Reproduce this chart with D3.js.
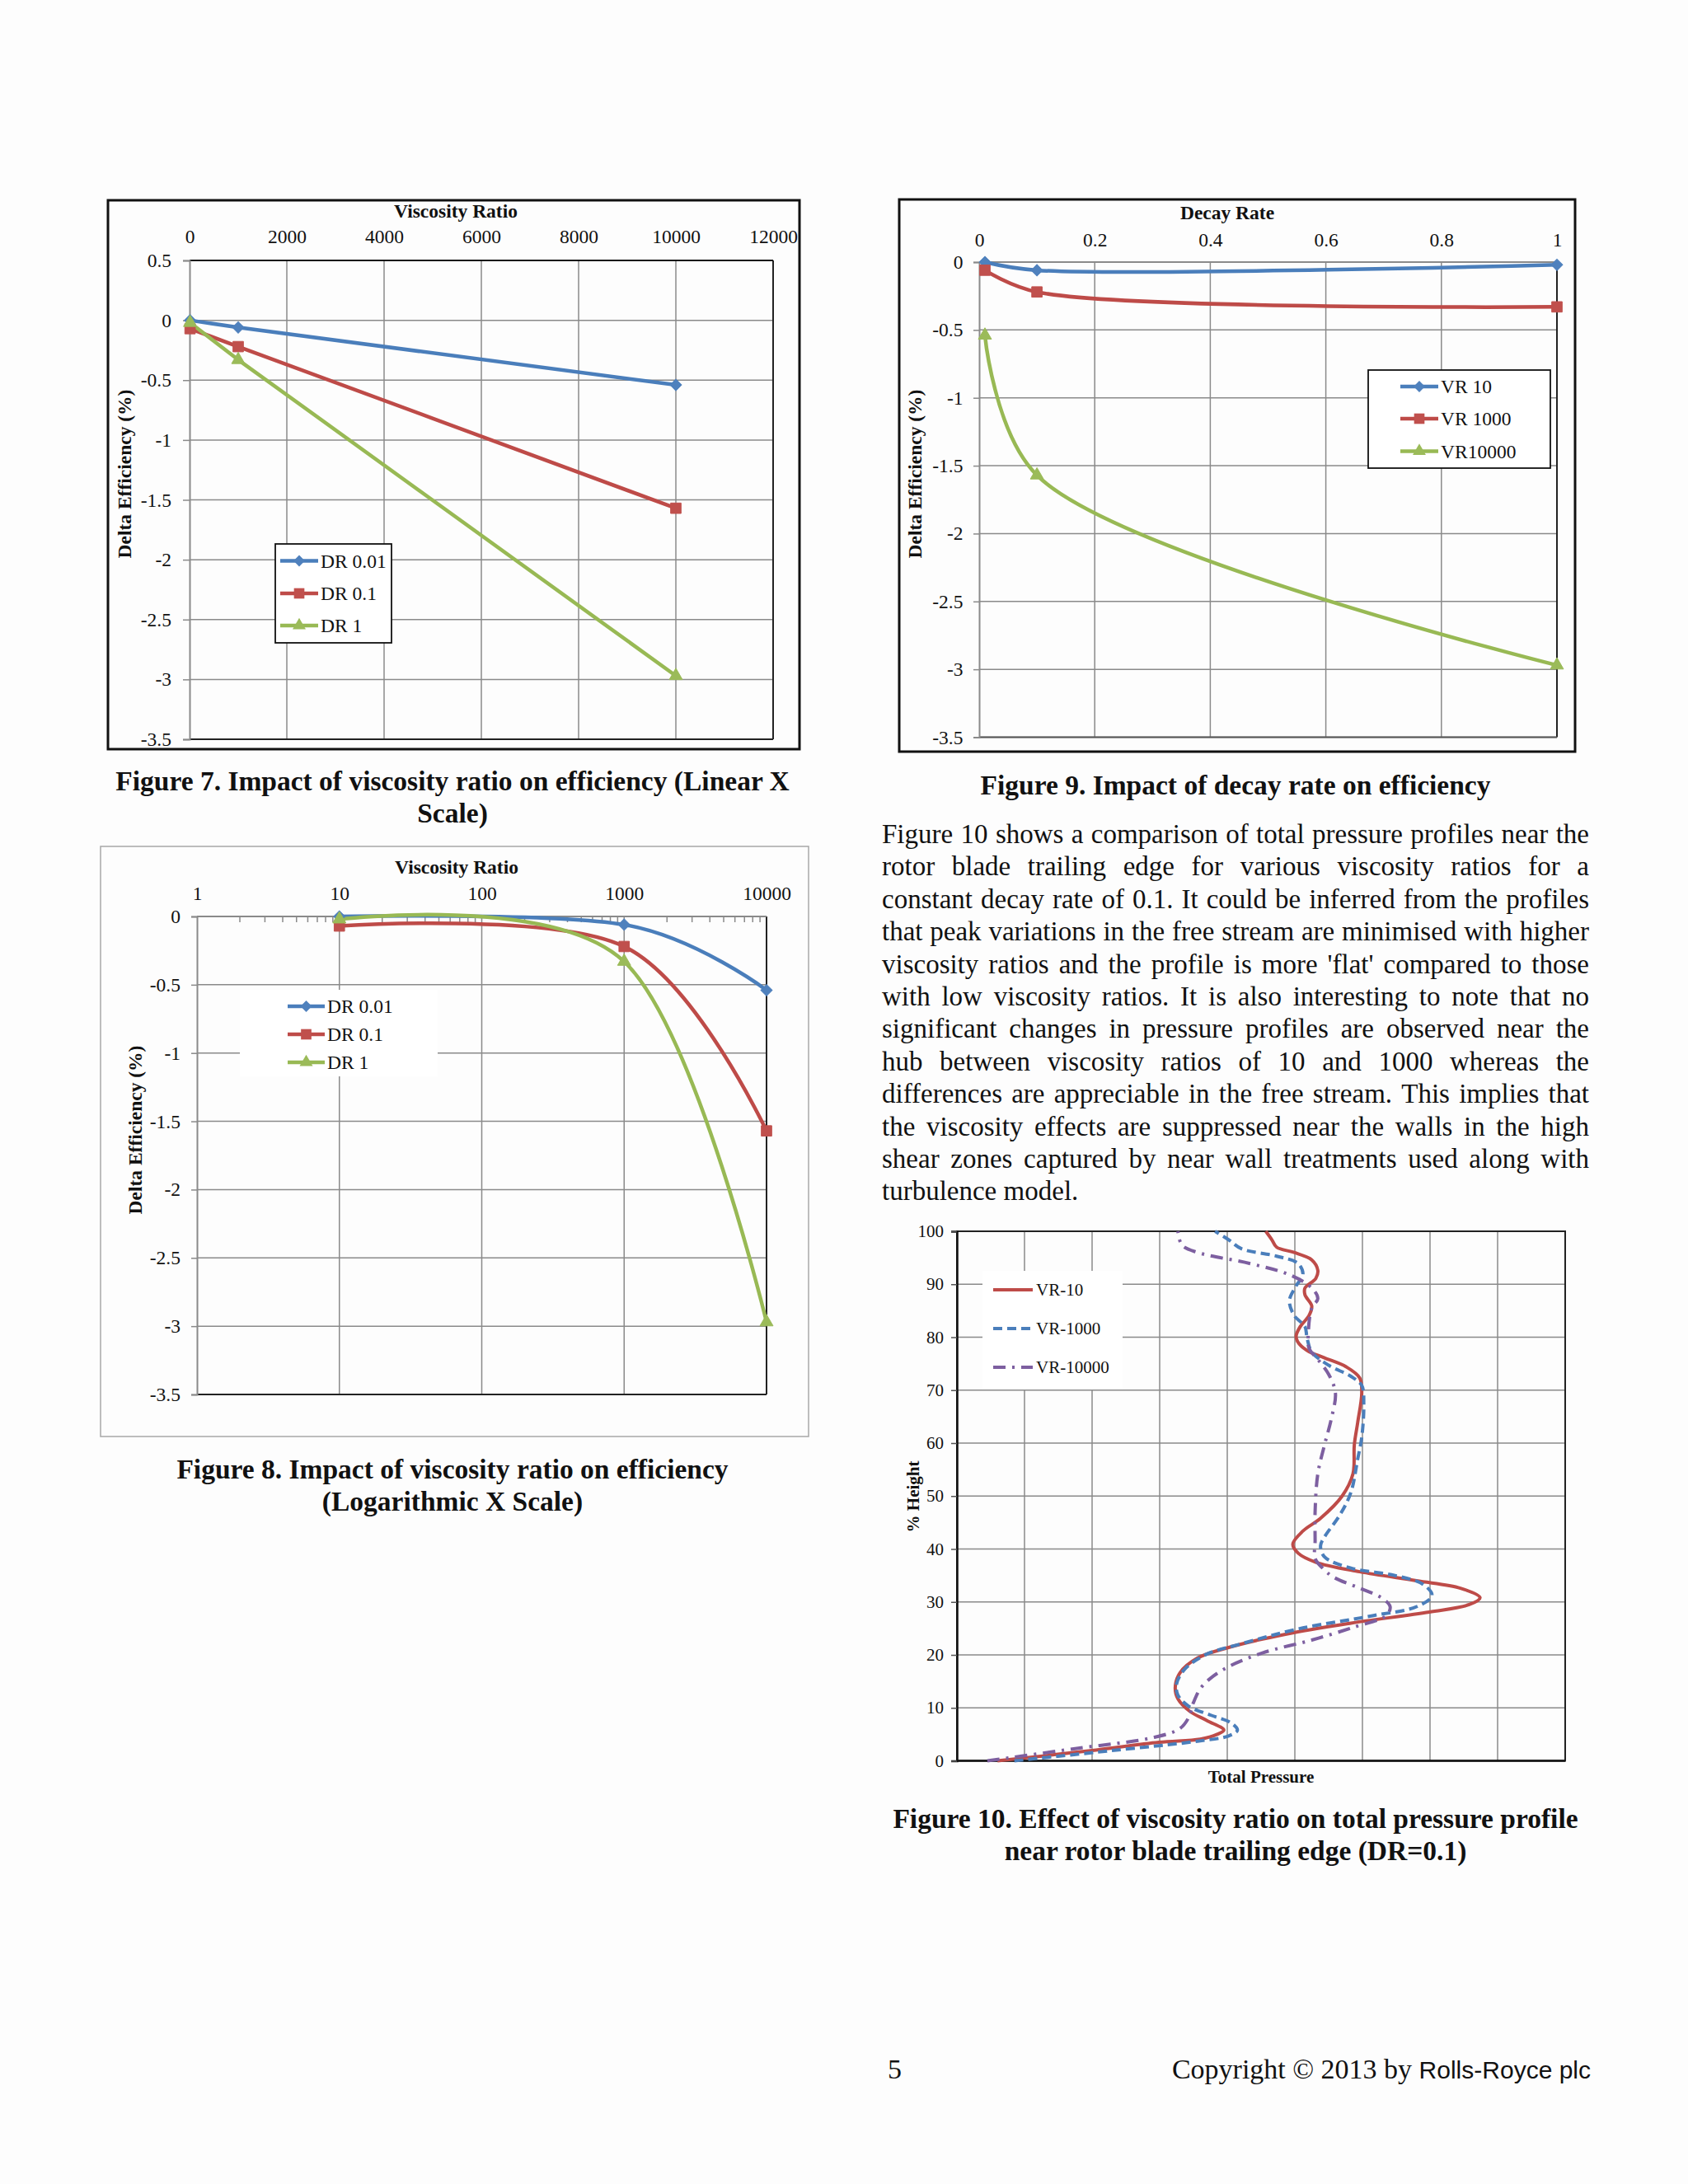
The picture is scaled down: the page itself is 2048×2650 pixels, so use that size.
<!DOCTYPE html>
<html>
<head>
<meta charset="utf-8">
<script src="https://cdn.jsdelivr.net/npm/d3@7"></script>
<style>
  body { margin: 0; background: #fdfdfd; }
</style>
</head>
<body>
<div id="page"></div>
<script>
// ---- data ----
var vrValues = [10, 1000, 10000];          // viscosity ratio (Fig 7 / 8)
var dr001 = [0, -0.06, -0.54];
var dr01  = [-0.07, -0.22, -1.57];
var dr1   = [-0.02, -0.33, -2.97];
var drLabels = ["DR 0.01", "DR 0.1", "DR 1"];

var drValues = [0.01, 0.1, 1];             // decay rate (Fig 9)
var vr10    = [0, -0.06, -0.02];
var vr1000  = [-0.06, -0.22, -0.33];
var vr10000 = [-0.54, -1.57, -2.97];
var vrLabels = ["VR 10", "VR 1000", "VR10000"];

var effTicks7 = [0.5, 0, -0.5, -1, -1.5, -2, -2.5, -3, -3.5];
var effTicks  = [0, -0.5, -1, -1.5, -2, -2.5, -3, -3.5];
var linTicks  = [0, 2000, 4000, 6000, 8000, 10000, 12000];
var logTicks  = [1, 10, 100, 1000, 10000];
var decayTicks = [0, 0.2, 0.4, 0.6, 0.8, 1];

// Fig 10: [total pressure (grid units), % height]
var heightTicks = [0, 10, 20, 30, 40, 50, 60, 70, 80, 90, 100];
var pressureGrid = [0, 1, 2, 3, 4, 5, 6, 7, 8, 9];
var profileLabels = ["VR-10", "VR-1000", "VR-10000"];
var profVR10 = [[0.6,0],[1.97,1.9],[2.99,3.5],[3.6,4.1],[3.85,5.0],[3.95,5.8],[3.7,7.6],[3.45,9.3],[3.27,11.7],[3.23,13.8],[3.3,16.6],[3.56,19.4],
  [4.02,21.4],[4.86,23.9],[5.83,26],[6.99,28.1],[7.58,29.5],[7.74,30.8],[7.45,32.6],[6.8,34],[5.96,35.7],[5.31,37.5],[5.05,39.2],[4.97,40.9],
  [5.12,43.4],[5.38,45.8],[5.7,50],[5.86,54.2],[5.88,59.7],[5.93,63.9],[5.99,69.5],[5.96,72.3],[5.76,74.4],[5.44,76.1],[5.18,77.5],[5.04,79.2],
  [5.02,80.3],[5.08,82],[5.21,84.1],[5.25,85.9],[5.15,88],[5.15,89.3],[5.31,91.1],[5.34,92.6],[5.25,94.6],[4.99,96],[4.73,97],[4.66,98.4],[4.57,100]];
var profVR1000 = [[0.85,0],[2.27,1.9],[3.56,3.7],[4.02,4.7],[4.15,5.8],[4.05,7.2],[3.76,8.6],[3.43,10.3],[3.27,12.4],[3.25,14.5],[3.37,17.3],
  [3.69,20.1],[4.21,22.1],[5.05,24.9],[6.15,27.4],[6.8,29.1],[7.03,31.2],[6.9,33.3],[6.48,35],[5.83,36.4],[5.44,38.5],[5.38,40.6],[5.44,42.3],
  [5.67,46.5],[5.83,50.7],[5.93,57],[5.99,61.1],[6.02,67.4],[5.99,70.9],[5.83,72.6],[5.5,74.7],[5.25,77.2],[5.18,79.9],[5.15,82],[4.99,84.1],
  [4.92,86.9],[5.02,89.7],[5.12,91.8],[5.05,93.9],[4.73,95.3],[4.21,96.7],[4.02,98.4],[3.82,100]];
var profVR10000 = [[0.45,0],[1.75,2.3],[2.91,4.4],[3.3,6.1],[3.43,8.2],[3.5,11],[3.63,14.1],[3.95,17.3],[4.53,20.4],[5.25,22.8],[5.89,25.3],
  [6.35,27.4],[6.41,29.1],[6.28,30.8],[5.96,32.6],[5.57,34.7],[5.41,36.4],[5.3,38.2],[5.3,41.6],[5.3,47.2],[5.34,54.2],[5.44,59.7],[5.54,64.6],
  [5.6,69.5],[5.5,73],[5.34,75.8],[5.21,77.9],[5.2,81],[5.25,85.5],[5.34,87.3],[5.25,89.3],[4.92,91.8],[4.34,93.9],[3.56,96],[3.33,97.4],[3.27,100]];

var paraLines = [
  "Figure 10 shows a comparison of total pressure profiles near the",
  "rotor blade trailing edge for various viscosity ratios for a",
  "constant decay rate of 0.1. It could be inferred from the profiles",
  "that peak variations in the free stream are minimised with higher",
  "viscosity ratios and the profile is more 'flat' compared to those",
  "with low viscosity ratios. It is also interesting to note that no",
  "significant changes in pressure profiles are observed near the",
  "hub between viscosity ratios of 10 and 1000 whereas the",
  "differences are appreciable in the free stream. This implies that",
  "the viscosity effects are suppressed near the walls in the high",
  "shear zones captured by near wall treatments used along with",
  "turbulence model."
];

// ---- page ----
var W = 2048, H = 2650;
var serif = '"Liberation Serif", "Times New Roman", serif';
var gridColor = "#8a8a8a";
var lineColors = ["#4A7EBB", "#BE4B48", "#98B954"];
var markColors = ["#4F81BD", "#C0504D", "#9BBB59"];
var markers = [
  d3.symbol(d3.symbolSquare, 95),
  d3.symbol(d3.symbolSquare, 160),
  d3.symbol(d3.symbolTriangle, 110)
];
var markRotate = [45, 0, 0];

var svg = d3.select("#page").append("svg")
  .attr("width", W).attr("height", H)
  .style("display", "block");
svg.append("rect").attr("width", W).attr("height", H).style("fill", "#fdfdfd");

function effChart(o) {
  var g = svg.append("g").style("font-family", serif).style("font-size", "23.5px").style("fill", "#111");
  var x = o.x, y = o.y;
  var xr = x.range(), yr = y.range();

  // outer chart frame
  g.append("rect")
    .attr("x", o.frame[0]).attr("y", o.frame[1])
    .attr("width", o.frame[2] - o.frame[0]).attr("height", o.frame[3] - o.frame[1])
    .style("fill", "none").style("stroke", o.frameStroke).style("stroke-width", o.frameWidth);

  // gridlines
  g.append("g").selectAll("line").data(o.yTicks).enter().append("line")
    .attr("x1", xr[0]).attr("x2", xr[1])
    .attr("y1", d => y(d)).attr("y2", d => y(d))
    .style("stroke", gridColor).style("stroke-width", 1.5);
  g.append("g").selectAll("line").data(o.xGrid).enter().append("line")
    .attr("x1", d => x(d)).attr("x2", d => x(d))
    .attr("y1", yr[0]).attr("y2", yr[1])
    .style("stroke", gridColor).style("stroke-width", 1.5);

  // plot border lines
  g.append("line").attr("x1", xr[1]).attr("x2", xr[1]).attr("y1", yr[0]).attr("y2", yr[1])
    .style("stroke", "#222").style("stroke-width", 2);
  g.append("line").attr("x1", xr[0]).attr("x2", xr[1]).attr("y1", yr[1]).attr("y2", yr[1])
    .style("stroke", o.bottomColor).style("stroke-width", 2);
  g.append("line").attr("x1", xr[0]).attr("x2", xr[1]).attr("y1", yr[0]).attr("y2", yr[0])
    .style("stroke", o.topColor).style("stroke-width", 2);

  // minor ticks (log axis)
  if (o.minor) {
    g.append("g").selectAll("line").data(o.minor).enter().append("line")
      .attr("x1", d => x(d)).attr("x2", d => x(d))
      .attr("y1", yr[0]).attr("y2", yr[0] + 7)
      .style("stroke", gridColor).style("stroke-width", 1.5);
  }

  // top axis labels
  var ax = g.append("g").attr("transform", "translate(0," + yr[0] + ")")
    .call(d3.axisTop(x).tickValues(o.xTicks).tickSize(0).tickPadding(o.xPad).tickFormat(d => String(d)));
  ax.attr("font-size", null).attr("font-family", null);
  ax.select(".domain").remove();
  ax.selectAll("text").style("fill", "#111");

  // left axis
  var ay = g.append("g").attr("transform", "translate(" + xr[0] + ",0)")
    .call(d3.axisLeft(y).tickValues(o.yTicks).tickSize(o.yTick).tickPadding(o.yPad).tickFormat(d => String(d)));
  ay.attr("font-size", null).attr("font-family", null);
  ay.select(".domain").style("stroke", gridColor).style("stroke-width", 2);
  ay.selectAll(".tick line").style("stroke", gridColor).style("stroke-width", 1.5);
  ay.selectAll("text").style("fill", "#111");

  // titles
  g.append("text").attr("x", o.xTitle[0]).attr("y", o.xTitle[1])
    .attr("text-anchor", "middle").style("font-weight", "bold").text(o.xLabel);
  g.append("text").attr("transform", "translate(" + o.yTitle[0] + "," + o.yTitle[1] + ") rotate(-90)")
    .attr("text-anchor", "middle").style("font-weight", "bold").text("Delta Efficiency (%)");

  // series
  var line = d3.line()
    .x((d, j) => x(o.xValues[j]))
    .y(d => y(d))
    .curve(o.curve);
  o.series.forEach(function(s, i) {
    g.append("path").datum(s).attr("d", line)
      .style("fill", "none").style("stroke", lineColors[i]).style("stroke-width", 4.5)
      .style("stroke-linejoin", "round");
  });
  o.series.forEach(function(s, i) {
    g.append("g").selectAll("path").data(s).enter().append("path")
      .attr("d", markers[i])
      .attr("transform", (d, j) => "translate(" + x(o.xValues[j]) + "," + y(d) + ") rotate(" + markRotate[i] + ")")
      .style("fill", markColors[i]).style("stroke", markColors[i]).style("stroke-width", 1);
  });

  // legend
  var lg = g.append("g");
  lg.append("rect")
    .attr("x", o.legend.box[0]).attr("y", o.legend.box[1])
    .attr("width", o.legend.box[2] - o.legend.box[0]).attr("height", o.legend.box[3] - o.legend.box[1])
    .style("fill", "#ffffff").style("stroke", o.legend.stroke ? "#111" : "none").style("stroke-width", 1.8);
  o.labels.forEach(function(lab, i) {
    var ly = o.legend.rows[i], lx = o.legend.line;
    lg.append("line").attr("x1", lx[0]).attr("x2", lx[1]).attr("y1", ly).attr("y2", ly)
      .style("stroke", lineColors[i]).style("stroke-width", 4.5);
    lg.append("path").attr("d", markers[i])
      .attr("transform", "translate(" + ((lx[0] + lx[1]) / 2) + "," + ly + ") rotate(" + markRotate[i] + ")")
      .style("fill", markColors[i]);
    lg.append("text").attr("x", lx[1] + 3).attr("y", ly).attr("dy", "0.35em").text(lab);
  });
}

// Figure 7
effChart({
  x: d3.scaleLinear().domain([0, 12000]).range([230, 938]),
  y: d3.scaleLinear().domain([0.5, -3.5]).range([316, 897]),
  frame: [131, 243, 970, 909], frameStroke: "#111", frameWidth: 3,
  xTicks: linTicks, xGrid: linTicks.slice(1, -1), yTicks: effTicks7,
  xPad: 21, yTick: 8, yPad: 14,
  topColor: "#111", bottomColor: "#222",
  xTitle: [553, 264], xLabel: "Viscosity Ratio", yTitle: [159, 575],
  xValues: vrValues, series: [dr001, dr01, dr1], labels: drLabels,
  curve: d3.curveLinear,
  legend: { box: [334, 660, 475, 780], stroke: true, line: [340, 386], rows: [680.5, 720, 759] }
});

// Figure 9
effChart({
  x: d3.scaleLinear().domain([0, 1]).range([1188, 1889]),
  y: d3.scaleLinear().domain([0, -3.5]).range([318, 894.5]),
  frame: [1091, 242, 1911, 912], frameStroke: "#111", frameWidth: 3,
  xTicks: decayTicks, xGrid: decayTicks.slice(1, -1), yTicks: effTicks,
  xPad: 19, yTick: 7, yPad: 12.5,
  topColor: gridColor, bottomColor: "#555",
  xTitle: [1489, 266], xLabel: "Decay Rate", yTitle: [1118, 575],
  xValues: drValues, series: [vr10, vr1000, vr10000], labels: vrLabels,
  curve: d3.curveCatmullRom.alpha(0.5),
  legend: { box: [1660, 449, 1881, 568], stroke: true, line: [1699, 1745], rows: [469, 508, 547.5] }
});

// Figure 8 (log x)
var xLog = d3.scaleLog().domain([1, 10000]).range([239, 930]);
effChart({
  x: xLog,
  y: d3.scaleLinear().domain([0, -3.5]).range([1112, 1692]),
  frame: [122, 1027, 981, 1743], frameStroke: "#a8a8a8", frameWidth: 1.5,
  xTicks: logTicks, xGrid: logTicks.slice(1, -1), yTicks: effTicks,
  minor: xLog.ticks().filter(d => logTicks.indexOf(d) < 0),
  xPad: 20, yTick: 7, yPad: 13,
  topColor: gridColor, bottomColor: "#222",
  xTitle: [554, 1060], xLabel: "Viscosity Ratio", yTitle: [172, 1371],
  xValues: vrValues, series: [dr001, dr01, dr1], labels: drLabels,
  curve: d3.curveCardinal.tension(0),
  legend: { box: [291, 1201, 531, 1306], stroke: false, line: [349, 394], rows: [1221, 1255, 1289] }
});

// Figure 10 : total pressure profiles
(function() {
  var g = svg.append("g").style("font-family", serif).style("font-size", "21px").style("fill", "#111");
  var x = d3.scaleLinear().domain([0, 9]).range([1161, 1899]);
  var y = d3.scaleLinear().domain([0, 100]).range([2136.5, 1494]);
  var xr = x.range(), yr = y.range();

  g.append("g").selectAll("line").data(heightTicks.slice(1, -1)).enter().append("line")
    .attr("x1", xr[0]).attr("x2", xr[1]).attr("y1", d => y(d)).attr("y2", d => y(d))
    .style("stroke", gridColor).style("stroke-width", 1.5);
  g.append("g").selectAll("line").data(pressureGrid.slice(1)).enter().append("line")
    .attr("x1", d => x(d)).attr("x2", d => x(d)).attr("y1", yr[0]).attr("y2", yr[1])
    .style("stroke", gridColor).style("stroke-width", 1.5);
  g.append("rect").attr("x", xr[0]).attr("y", yr[1]).attr("width", xr[1] - xr[0]).attr("height", yr[0] - yr[1])
    .style("fill", "none").style("stroke", "#222").style("stroke-width", 2);

  var ay = g.append("g").attr("transform", "translate(" + xr[0] + ",0)")
    .call(d3.axisLeft(y).tickValues(heightTicks).tickSize(7).tickPadding(9).tickFormat(d => String(d)));
  ay.attr("font-size", null).attr("font-family", null);
  ay.select(".domain").style("stroke", "#111").style("stroke-width", 2.5);
  ay.selectAll(".tick line").style("stroke", "#555").style("stroke-width", 1.5);
  ay.selectAll("text").style("fill", "#111");
  g.append("line").attr("x1", xr[0]).attr("x2", xr[1]).attr("y1", yr[0]).attr("y2", yr[0])
    .style("stroke", "#111").style("stroke-width", 2.5);

  g.append("text").attr("x", 1530).attr("y", 2163).attr("text-anchor", "middle")
    .style("font-weight", "bold").text("Total Pressure");
  g.append("text").attr("transform", "translate(1115,1816) rotate(-90)").attr("text-anchor", "middle")
    .style("font-weight", "bold").text("% Height");

  var profColors = ["#BE4B48", "#4A7EBB", "#7D5FA0"];
  var profDash = [null, "11,6", "15,8,3,8"];
  var line = d3.line().x(d => x(d[0])).y(d => y(d[1])).curve(d3.curveCatmullRom.alpha(0.5));
  [profVR10, profVR1000, profVR10000].forEach(function(s, i) {
    g.append("path").datum(s).attr("d", line)
      .style("fill", "none").style("stroke", profColors[i]).style("stroke-width", 4)
      .style("stroke-dasharray", profDash[i]);
  });

  var lg = g.append("g");
  lg.append("rect").attr("x", 1192).attr("y", 1542).attr("width", 170).attr("height", 144).style("fill", "#ffffff");
  var rows = [1565, 1612, 1659];
  profileLabels.forEach(function(lab, i) {
    lg.append("line").attr("x1", 1205).attr("x2", 1253).attr("y1", rows[i]).attr("y2", rows[i])
      .style("stroke", profColors[i]).style("stroke-width", 4).style("stroke-dasharray", profDash[i]);
    lg.append("text").attr("x", 1257).attr("y", rows[i]).attr("dy", "0.35em").text(lab);
  });
})();

// ---- captions and body text ----
var tg = svg.append("g").style("font-family", serif).style("font-size", "33.5px").style("fill", "#111");
function caption(lines, cx, y0) {
  lines.forEach(function(t, i) {
    tg.append("text").attr("x", cx).attr("y", y0 + i * 39.2).attr("text-anchor", "middle")
      .style("font-weight", "bold").text(t);
  });
}
caption(["Figure 7. Impact of viscosity ratio on efficiency (Linear X", "Scale)"], 549, 959);
caption(["Figure 9. Impact of decay rate on efficiency"], 1499, 964);
caption(["Figure 8. Impact of viscosity ratio on efficiency", "(Logarithmic X Scale)"], 549, 1794);
caption(["Figure 10. Effect of viscosity ratio on total pressure profile", "near rotor blade trailing edge (DR=0.1)"], 1499, 2218);

// justified paragraph
var paraX0 = 1070, paraX1 = 1928, paraY0 = 1023, paraStep = 39.4;
paraLines.forEach(function(t, i) {
  var words = t.split(" ");
  var row = tg.append("text").attr("y", paraY0 + i * paraStep).style("font-size", "33px");
  var spans = words.map(w => row.append("tspan").text(w));
  var widths = spans.map(s => s.node().getComputedTextLength());
  var total = d3.sum(widths);
  var gap = (i < paraLines.length - 1) ? (paraX1 - paraX0 - total) / (words.length - 1) : 8.3;
  var cx = paraX0;
  spans.forEach(function(s, k) { s.attr("x", cx); cx += widths[k] + gap; });
});

// footer
tg.append("text").attr("x", 1077).attr("y", 2522).style("font-size", "34px").text("5");
var foot = tg.append("text").attr("x", 1930).attr("y", 2522).attr("text-anchor", "end")
  .style("white-space", "pre").style("font-size", "34px");
foot.append("tspan").text("Copyright \u00A9 2013 by ");
foot.append("tspan").style("font-family", '"Liberation Sans", Arial, sans-serif').style("font-size", "30px").text("Rolls-Royce plc");
</script>
</body>
</html>
